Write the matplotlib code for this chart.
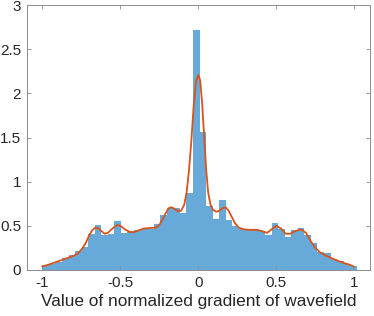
import numpy as np
import matplotlib
matplotlib.use("Agg")
import matplotlib.pyplot as plt

plt.rcParams['font.family'] = ['Liberation Sans', 'DejaVu Sans']
plt.rcParams['axes.unicode_minus'] = False

# histogram (pdf-normalised), 48 bins starting at -1
bin_start = -1.0
bin_width = 0.042
heights = [0.06, 0.07, 0.09, 0.14, 0.17, 0.22, 0.26, 0.41, 0.51, 0.40,
           0.41, 0.55, 0.42, 0.43, 0.45, 0.46, 0.46, 0.52, 0.62, 0.70,
           0.70, 0.65, 0.87, 2.72, 1.56, 0.72, 0.58, 0.79, 0.57, 0.50,
           0.46, 0.46, 0.46, 0.44, 0.40, 0.53, 0.46, 0.37, 0.45, 0.48,
           0.40, 0.30, 0.20, 0.19, 0.13, 0.10, 0.07, 0.04]

# smooth density estimate
kde_x = [-1.0, -0.96, -0.92, -0.88, -0.84, -0.80, -0.77, -0.745, -0.72, -0.70,
         -0.68, -0.66, -0.64, -0.62, -0.60, -0.58, -0.55, -0.52, -0.50, -0.47,
         -0.44, -0.41, -0.38, -0.35, -0.31, -0.27, -0.25, -0.23, -0.21, -0.19,
         -0.17, -0.15, -0.13, -0.11, -0.09, -0.075, -0.06, -0.045, -0.03, -0.015,
         0.0, 0.012, 0.025, 0.038, 0.05, 0.063, 0.078, 0.095, 0.115, 0.135,
         0.155, 0.175, 0.195, 0.215, 0.235, 0.26, 0.29, 0.33, 0.37, 0.41,
         0.44, 0.47, 0.50, 0.53, 0.56, 0.59, 0.62, 0.66, 0.69, 0.72,
         0.75, 0.78, 0.82, 0.86, 0.90, 0.94, 0.97, 0.995]
kde_y = [0.04, 0.06, 0.085, 0.11, 0.135, 0.16, 0.19, 0.24, 0.31, 0.39,
         0.45, 0.48, 0.47, 0.44, 0.41, 0.42, 0.47, 0.51, 0.50, 0.46,
         0.43, 0.43, 0.45, 0.47, 0.475, 0.48, 0.51, 0.57, 0.64, 0.70,
         0.71, 0.69, 0.665, 0.67, 0.74, 0.88, 1.12, 1.45, 1.85, 2.13,
         2.21, 2.15, 1.88, 1.50, 1.15, 0.88, 0.74, 0.68, 0.66, 0.67,
         0.70, 0.71, 0.67, 0.60, 0.53, 0.48, 0.46, 0.455, 0.455, 0.44,
         0.42, 0.46, 0.50, 0.47, 0.41, 0.41, 0.44, 0.46, 0.42, 0.33,
         0.25, 0.20, 0.16, 0.13, 0.10, 0.075, 0.06, 0.04]

x_ticks = [-1, -0.5, 0, 0.5, 1]
x_labels = ['-1', '-0.5', '0', '0.5', '1']
y_ticks = [0, 0.5, 1, 1.5, 2, 2.5, 3]
y_labels = ['0', '0.5', '1', '1.5', '2', '2.5', '3']

fig = plt.figure(figsize=(3.74, 3.16), dpi=100)
ax = fig.add_axes([0.0714, 0.1456, 0.9176, 0.8384])

centers = bin_start + bin_width * (np.arange(len(heights)) + 0.5)
ax.bar(centers, heights, width=bin_width, color='#67aad9', edgecolor='none')
ax.plot(kde_x, kde_y, color='#d95319', linewidth=1.3)

ax.set_xlim(-1.1, 1.1)
ax.set_ylim(0, 3)
ax.set_xticks(x_ticks)
ax.set_xticklabels(x_labels)
ax.set_yticks(y_ticks)
ax.set_yticklabels(y_labels)
ax.tick_params(direction='in', length=3, width=0.6, color='#8c8c8c',
               top=True, right=True, labelsize=11, labelcolor='#262626', pad=4)
for s in ax.spines.values():
    s.set_color('#8c8c8c')
    s.set_linewidth(0.7)
ax.set_xlabel('Value of normalized gradient of wavefield', fontsize=12.4,
              color='#262626', labelpad=3.5)

fig.savefig('out.png', dpi=100)
